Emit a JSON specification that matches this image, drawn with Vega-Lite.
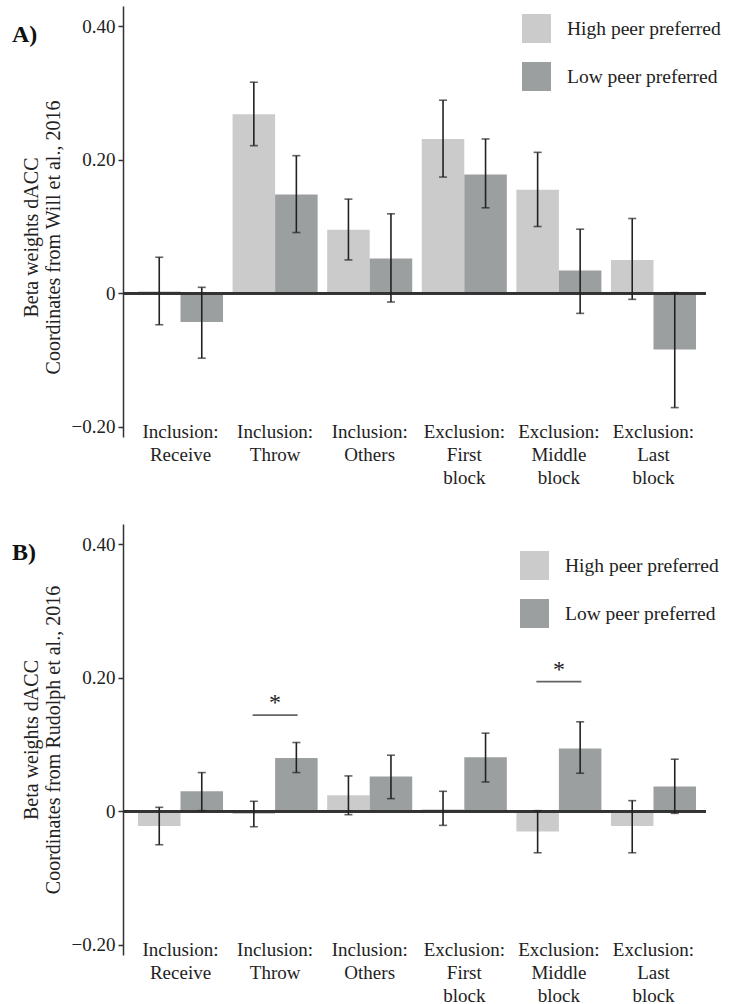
{
  "$schema": "https://vega.github.io/schema/vega-lite/v6.json",
  "padding": {"left": 12, "top": 6, "right": 0, "bottom": 0},
  "background": "white",
  "datasets": {
    "a": [
      {"cond": "Inclusion: Receive", "grp": "High peer preferred", "mean": 0.003, "lo": -0.047, "hi": 0.054},
      {"cond": "Inclusion: Receive", "grp": "Low peer preferred", "mean": -0.043, "lo": -0.097, "hi": 0.009},
      {"cond": "Inclusion: Throw", "grp": "High peer preferred", "mean": 0.268, "lo": 0.221, "hi": 0.316},
      {"cond": "Inclusion: Throw", "grp": "Low peer preferred", "mean": 0.148, "lo": 0.091, "hi": 0.206},
      {"cond": "Inclusion: Others", "grp": "High peer preferred", "mean": 0.095, "lo": 0.050, "hi": 0.141},
      {"cond": "Inclusion: Others", "grp": "Low peer preferred", "mean": 0.052, "lo": -0.013, "hi": 0.119},
      {"cond": "Exclusion: First block", "grp": "High peer preferred", "mean": 0.231, "lo": 0.174, "hi": 0.289},
      {"cond": "Exclusion: First block", "grp": "Low peer preferred", "mean": 0.178, "lo": 0.128, "hi": 0.231},
      {"cond": "Exclusion: Middle block", "grp": "High peer preferred", "mean": 0.155, "lo": 0.100, "hi": 0.211},
      {"cond": "Exclusion: Middle block", "grp": "Low peer preferred", "mean": 0.034, "lo": -0.030, "hi": 0.096},
      {"cond": "Exclusion: Last block", "grp": "High peer preferred", "mean": 0.050, "lo": -0.009, "hi": 0.112},
      {"cond": "Exclusion: Last block", "grp": "Low peer preferred", "mean": -0.084, "lo": -0.171, "hi": 0.001}
    ],
    "b": [
      {"cond": "Inclusion: Receive", "grp": "High peer preferred", "mean": -0.022, "lo": -0.050, "hi": 0.006},
      {"cond": "Inclusion: Receive", "grp": "Low peer preferred", "mean": 0.030, "lo": 0.001, "hi": 0.058},
      {"cond": "Inclusion: Throw", "grp": "High peer preferred", "mean": -0.004, "lo": -0.023, "hi": 0.015},
      {"cond": "Inclusion: Throw", "grp": "Low peer preferred", "mean": 0.080, "lo": 0.058, "hi": 0.103},
      {"cond": "Inclusion: Others", "grp": "High peer preferred", "mean": 0.024, "lo": -0.005, "hi": 0.053},
      {"cond": "Inclusion: Others", "grp": "Low peer preferred", "mean": 0.052, "lo": 0.019, "hi": 0.084},
      {"cond": "Exclusion: First block", "grp": "High peer preferred", "mean": 0.003, "lo": -0.021, "hi": 0.030},
      {"cond": "Exclusion: First block", "grp": "Low peer preferred", "mean": 0.081, "lo": 0.044, "hi": 0.117},
      {"cond": "Exclusion: Middle block", "grp": "High peer preferred", "mean": -0.030, "lo": -0.062, "hi": 0.001},
      {"cond": "Exclusion: Middle block", "grp": "Low peer preferred", "mean": 0.094, "lo": 0.057, "hi": 0.134},
      {"cond": "Exclusion: Last block", "grp": "High peer preferred", "mean": -0.022, "lo": -0.062, "hi": 0.016},
      {"cond": "Exclusion: Last block", "grp": "Low peer preferred", "mean": 0.037, "lo": -0.003, "hi": 0.078}
    ],
    "sig": [
      {"cond": "Inclusion: Throw", "line": 0.144, "star": 0.162, "label": "*"},
      {"cond": "Exclusion: Middle block", "line": 0.194, "star": 0.212, "label": "*"}
    ]
  },
  "spacing": 37,
  "resolve": {"scale": {"color": "independent"}},
  "vconcat": [
    {
      "width": 583,
      "height": 431,
      "title": {"text": "A)", "anchor": "start", "frame": "group", "orient": "top", "offset": -60, "dx": -111, "baseline": "alphabetic", "fontSize": 24, "font": "Liberation Serif", "fontWeight": "bold", "color": "#111"},
      "data": {"name": "a"},
      "layer": [
        {
          "mark": {"type": "bar"},
          "encoding": {
            "x": {"field": "cond", "type": "nominal", "title": null,
                  "scale": {"domain": ["Inclusion: Receive", "Inclusion: Throw", "Inclusion: Others", "Exclusion: First block", "Exclusion: Middle block", "Exclusion: Last block"], "paddingInner": 0.101, "paddingOuter": 0.132, "align": 0.6},
                  "axis": {"orient": "bottom", "domain": false, "ticks": false, "labelAngle": 0, "labelPadding": -15, "labelExpr": "split(datum.label, ' ')", "labelLineHeight": 23, "labelBaseline": "top", "labelOverlap": false, "labelBound": false, "labelFlush": false}},
            "xOffset": {"field": "grp", "type": "nominal", "scale": {"domain": ["High peer preferred", "Low peer preferred"], "paddingInner": 0, "paddingOuter": 0}},
            "y": {"field": "mean", "type": "quantitative",
                  "scale": {"domain": [-0.215, 0.43], "nice": false, "zero": false},
                  "axis": {"title": ["Beta weights dACC", "Coordinates from Will et al., 2016"], "values": [-0.2, 0, 0.2, 0.4], "labelExpr": "datum.value == 0 ? '0' : format(datum.value, '.2f')", "grid": false, "tickSize": 5, "labelPadding": 3, "titlePadding": 8, "titleY": 231}},
            "color": {"field": "grp", "type": "nominal",
                      "scale": {"domain": ["High peer preferred", "Low peer preferred"], "range": ["#cacbca", "#9c9fa0"]},
                      "legend": {"orient": "none", "legendX": 399, "legendY": 8, "title": null, "symbolType": "square", "symbolSize": 841, "symbolStrokeWidth": 0, "symbolOpacity": 1, "labelFontSize": 19.5, "labelFont": "Liberation Serif", "labelColor": "#222", "rowPadding": 19, "labelOffset": 16, "padding": 0}}
          }
        },
        {
          "mark": {"type": "rule", "color": "#333", "strokeWidth": 2},
          "encoding": {"y": {"datum": 0, "type": "quantitative"}}
        },
        {
          "mark": {"type": "rule", "color": "#222", "strokeWidth": 1.6},
          "encoding": {
            "x": {"field": "cond", "type": "nominal", "title": null},
            "xOffset": {"field": "grp", "type": "nominal"},
            "y": {"field": "lo", "type": "quantitative"},
            "y2": {"field": "hi"}
          }
        },
        {
          "mark": {"type": "tick", "color": "#222", "thickness": 1.6, "size": 8, "orient": "horizontal"},
          "encoding": {
            "x": {"field": "cond", "type": "nominal", "title": null},
            "xOffset": {"field": "grp", "type": "nominal"},
            "y": {"field": "lo", "type": "quantitative"}
          }
        },
        {
          "mark": {"type": "tick", "color": "#222", "thickness": 1.6, "size": 8, "orient": "horizontal"},
          "encoding": {
            "x": {"field": "cond", "type": "nominal", "title": null},
            "xOffset": {"field": "grp", "type": "nominal"},
            "y": {"field": "hi", "type": "quantitative"}
          }
        }
      ]
    },
    {
      "width": 583,
      "height": 431,
      "title": {"text": "B)", "anchor": "start", "frame": "group", "orient": "top", "offset": -60, "dx": -111, "baseline": "alphabetic", "fontSize": 24, "font": "Liberation Serif", "fontWeight": "bold", "color": "#111"},
      "layer": [
        {
          "data": {"name": "b"},
          "mark": {"type": "bar"},
          "encoding": {
            "x": {"field": "cond", "type": "nominal", "title": null,
                  "scale": {"domain": ["Inclusion: Receive", "Inclusion: Throw", "Inclusion: Others", "Exclusion: First block", "Exclusion: Middle block", "Exclusion: Last block"], "paddingInner": 0.101, "paddingOuter": 0.132, "align": 0.6},
                  "axis": {"orient": "bottom", "domain": false, "ticks": false, "labelAngle": 0, "labelPadding": -15, "labelExpr": "split(datum.label, ' ')", "labelLineHeight": 23, "labelBaseline": "top", "labelOverlap": false, "labelBound": false, "labelFlush": false}},
            "xOffset": {"field": "grp", "type": "nominal", "scale": {"domain": ["High peer preferred", "Low peer preferred"], "paddingInner": 0, "paddingOuter": 0}},
            "y": {"field": "mean", "type": "quantitative",
                  "scale": {"domain": [-0.215, 0.43], "nice": false, "zero": false},
                  "axis": {"title": ["Beta weights dACC", "Coordinates from Rudolph et al., 2016"], "values": [-0.2, 0, 0.2, 0.4], "labelExpr": "datum.value == 0 ? '0' : format(datum.value, '.2f')", "grid": false, "tickSize": 5, "labelPadding": 3, "titlePadding": 8}},
            "color": {"field": "grp", "type": "nominal",
                      "scale": {"domain": ["High peer preferred", "Low peer preferred"], "range": ["#cacbca", "#9c9fa0"]},
                      "legend": {"orient": "none", "legendX": 397, "legendY": 27, "title": null, "symbolType": "square", "symbolSize": 841, "symbolStrokeWidth": 0, "symbolOpacity": 1, "labelFontSize": 19.5, "labelFont": "Liberation Serif", "labelColor": "#222", "rowPadding": 19, "labelOffset": 16, "padding": 0}}
          }
        },
        {
          "data": {"name": "b"},
          "mark": {"type": "rule", "color": "#333", "strokeWidth": 2},
          "encoding": {"y": {"datum": 0, "type": "quantitative"}}
        },
        {
          "data": {"name": "b"},
          "mark": {"type": "rule", "color": "#222", "strokeWidth": 1.6},
          "encoding": {
            "x": {"field": "cond", "type": "nominal", "title": null},
            "xOffset": {"field": "grp", "type": "nominal"},
            "y": {"field": "lo", "type": "quantitative"},
            "y2": {"field": "hi"}
          }
        },
        {
          "data": {"name": "b"},
          "mark": {"type": "tick", "color": "#222", "thickness": 1.6, "size": 8, "orient": "horizontal"},
          "encoding": {
            "x": {"field": "cond", "type": "nominal", "title": null},
            "xOffset": {"field": "grp", "type": "nominal"},
            "y": {"field": "lo", "type": "quantitative"}
          }
        },
        {
          "data": {"name": "b"},
          "mark": {"type": "tick", "color": "#222", "thickness": 1.6, "size": 8, "orient": "horizontal"},
          "encoding": {
            "x": {"field": "cond", "type": "nominal", "title": null},
            "xOffset": {"field": "grp", "type": "nominal"},
            "y": {"field": "hi", "type": "quantitative"}
          }
        },
        {
          "data": {"name": "sig"},
          "mark": {"type": "tick", "color": "#222", "thickness": 1.8, "size": 45, "orient": "horizontal"},
          "encoding": {
            "x": {"field": "cond", "type": "nominal", "title": null},
            "y": {"field": "line", "type": "quantitative"}
          }
        },
        {
          "data": {"name": "sig"},
          "mark": {"type": "text", "color": "#222", "font": "Liberation Serif", "fontSize": 24, "baseline": "middle", "align": "center"},
          "encoding": {
            "x": {"field": "cond", "type": "nominal", "title": null},
            "y": {"field": "star", "type": "quantitative"},
            "text": {"field": "label"}
          }
        }
      ]
    }
  ],
  "config": {
    "view": {"stroke": null},
    "font": "Liberation Serif",
    "axis": {"labelFont": "Liberation Serif", "labelFontSize": 19, "labelColor": "#222", "titleFont": "Liberation Serif", "titleFontSize": 20, "titleFontWeight": "normal", "titleColor": "#222", "titleLineHeight": 22, "domainColor": "#333", "domainWidth": 1.5, "tickColor": "#333", "tickWidth": 1.5},
    "legend": {"labelFont": "Liberation Serif"}
  }
}
